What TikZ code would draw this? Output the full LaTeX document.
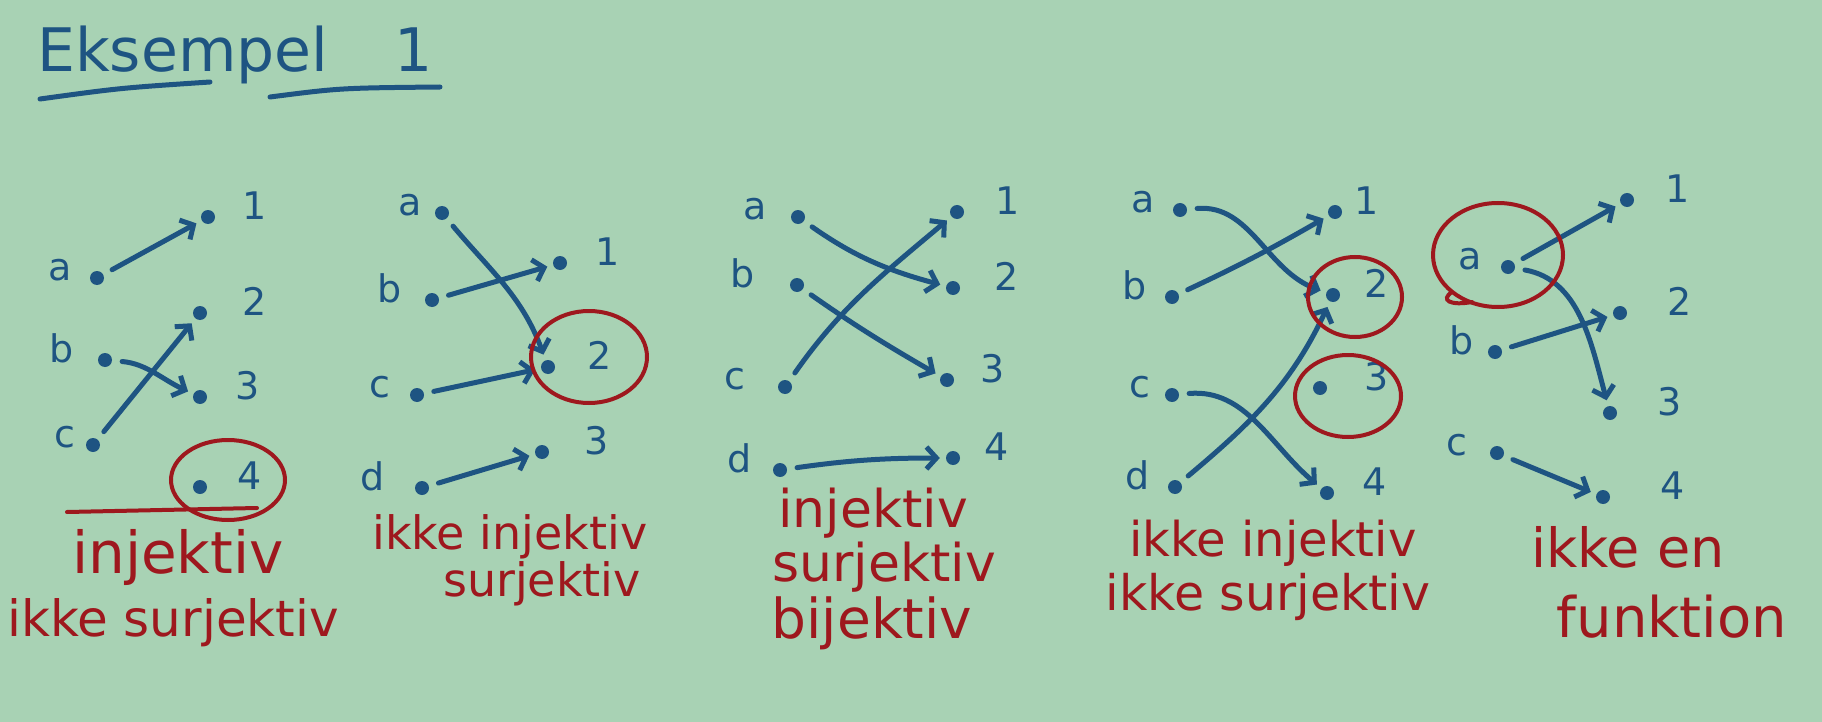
\documentclass[tikz,border=0pt]{standalone}
\usepackage{fontspec}
\setmainfont{DejaVu Sans}
\usetikzlibrary{arrows.meta}

\definecolor{board}{RGB}{168,210,180}
\definecolor{ink}{RGB}{30,84,130}
\definecolor{redink}{RGB}{158,24,30}

\tikzset{
  elem/.style={circle, fill=ink, inner sep=0pt, minimum size=14pt},
  lbl/.style={text=ink, inner sep=0pt, anchor=mid, font=\fontsize{38}{38}\selectfont},
  verdict/.style={text=redink, inner sep=0pt, font=\fontsize{#1}{#1}\selectfont},
  verdict/.default=50,
  map/.style={draw=ink, line width=5pt, line cap=round, shorten <=10pt, shorten >=6pt,
    -{Straight Barb[length=10pt,width=22pt]}},
  ring/.style={draw=redink, line width=4pt, line cap=round}
}

\begin{document}
\begin{tikzpicture}[x=1pt, y=-1pt]
\fill[board] (0,0) rectangle (1822,722);

% title
\node[text=ink, inner sep=0pt, anchor=base west, font=\fontsize{60}{60}\selectfont] (title) at (37,72) {Eksempel\hspace{1.1em}1};
\draw[ink, line width=5pt, line cap=round] (40,99) .. controls (120,88) .. (210,82);
\draw[ink, line width=5pt, line cap=round] (270,97) .. controls (340,88) .. (440,87);

% injektiv, ikke surjektiv
\foreach \n/\x/\y/\lx in {a/97/278/60, b/105/360/62, c/93/445/65}
  {\node[elem] (A\n) at (\x,\y) {};
   \node[lbl] (A\n-t) at (\lx,\y) {\n};}
\foreach \n/\x/\y/\lx in {1/208/217/255, 2/200/313/255, 3/200/397/248, 4/200/487/250}
  {\node[elem] (A\n) at (\x,\y) {};
   \node[lbl] (A\n-t) at (\lx,\y) {\n};}
\draw[map] (Aa) -- (A1);
\draw[map] (Ab) to[out=-5, in=155] (A3);
\draw[map] (Ac) -- (A2);
\draw[ring] (228,480) ellipse [x radius=57, y radius=40];
\draw[ring] (67,512) -- (257,508);
\node[verdict=58] (A-inj) at (178,557) {injektiv};
\node[verdict] (A-sur) at (173,623) {ikke surjektiv};

% ikke injektiv, surjektiv
\foreach \n/\x/\y/\lx in {a/442/213/410, b/432/300/390, c/417/395/380, d/422/488/373}
  {\node[elem] (B\n) at (\x,\y) {};
   \node[lbl] (B\n-t) at (\lx,\y) {\n};}
\foreach \n/\x/\y/\lx in {1/560/263/608, 2/548/367/600, 3/542/452/597}
  {\node[elem] (B\n) at (\x,\y) {};
   \node[lbl] (B\n-t) at (\lx,\y) {\n};}
\draw[map] (Ba) to[out=-50, in=110] (B2);
\draw[map] (Bb) -- (B1);
\draw[map] (Bc) -- (B2);
\draw[map] (Bd) -- (B3);
\draw[ring] (589,357) ellipse [x radius=58, y radius=46];
\node[verdict=46] (B-inj) at (510,537) {ikke injektiv};
\node[verdict=46] (B-sur) at (542,584) {surjektiv};

% bijektiv
\foreach \n/\x/\y/\lx in {a/798/217/755, b/797/285/743, c/785/387/735, d/780/470/740}
  {\node[elem] (C\n) at (\x,\y) {};
   \node[lbl] (C\n-t) at (\lx,\y) {\n};}
\foreach \n/\x/\y/\lx in {1/957/212/1008, 2/953/288/1007, 3/947/380/993, 4/953/458/997}
  {\node[elem] (C\n) at (\x,\y) {};
   \node[lbl] (C\n-t) at (\lx,\y) {\n};}
\draw[map] (Ca) to[out=-35, in=165] (C2);
\draw[map] (Cb) to[out=-35, in=150] (C3);
\draw[map] (Cc) to[out=55, in=-140] (C1);
\draw[map] (Cd) to[out=8, in=180] (C4);
\node[verdict=52] (C-inj) at (873,513) {injektiv};
\node[verdict=52] (C-sur) at (884,567) {surjektiv};
\node[verdict=55] (C-bij) at (872,623) {bijektiv};

% ikke injektiv, ikke surjektiv
\foreach \n/\x/\y/\lx in {a/1180/210/1143, b/1172/297/1135, c/1172/395/1140, d/1175/487/1138}
  {\node[elem] (D\n) at (\x,\y) {};
   \node[lbl] (D\n-t) at (\lx,\y) {\n};}
\foreach \n/\x/\y/\lx in {1/1335/212/1367, 2/1333/295/1377, 3/1320/388/1377, 4/1327/493/1375}
  {\node[elem] (D\n) at (\x,\y) {};
   \node[lbl] (D\n-t) at (\lx,\y) {\n};}
\draw[map] (Da) to[out=5, in=160] (D2);
\draw[map] (Db) to[out=25, in=-150] (D1);
\draw[map] (Dc) to[out=5, in=140] (D4);
\draw[map] (Dd) to[out=40, in=-115] (D2);
\draw[ring] (1355,297) ellipse [x radius=47, y radius=40];
\draw[ring] (1348,396) ellipse [x radius=53, y radius=41];
\node[verdict=48] (D-inj) at (1273,543) {ikke injektiv};
\node[verdict=49] (D-sur) at (1268,597) {ikke surjektiv};

% ikke en funktion
\foreach \n/\x/\y/\lx in {a/1508/267/1470, b/1495/352/1462, c/1497/453/1457}
  {\node[elem] (E\n) at (\x,\y) {};
   \node[lbl] (E\n-t) at (\lx,\y) {\n};}
\foreach \n/\x/\y/\lx in {1/1627/200/1678, 2/1620/313/1680, 3/1610/413/1670, 4/1603/497/1673}
  {\node[elem] (E\n) at (\x,\y) {};
   \node[lbl] (E\n-t) at (\lx,\y) {\n};}
\draw[map] (Ea) -- (E1);
\draw[map] (Ea) to[out=-10, in=105] (E3);
\draw[map] (Eb) -- (E2);
\draw[map] (Ec) -- (E4);
\draw[ring] (1498,255) ellipse [x radius=65, y radius=52];
\draw[ring] (1452,292) .. controls (1440,300) and (1450,306) .. (1472,302);
\node[verdict=54] (E-ikke) at (1628,547) {ikke en};
\node[verdict=56] (E-fkt) at (1672,617) {funktion};
\end{tikzpicture}
\end{document}
